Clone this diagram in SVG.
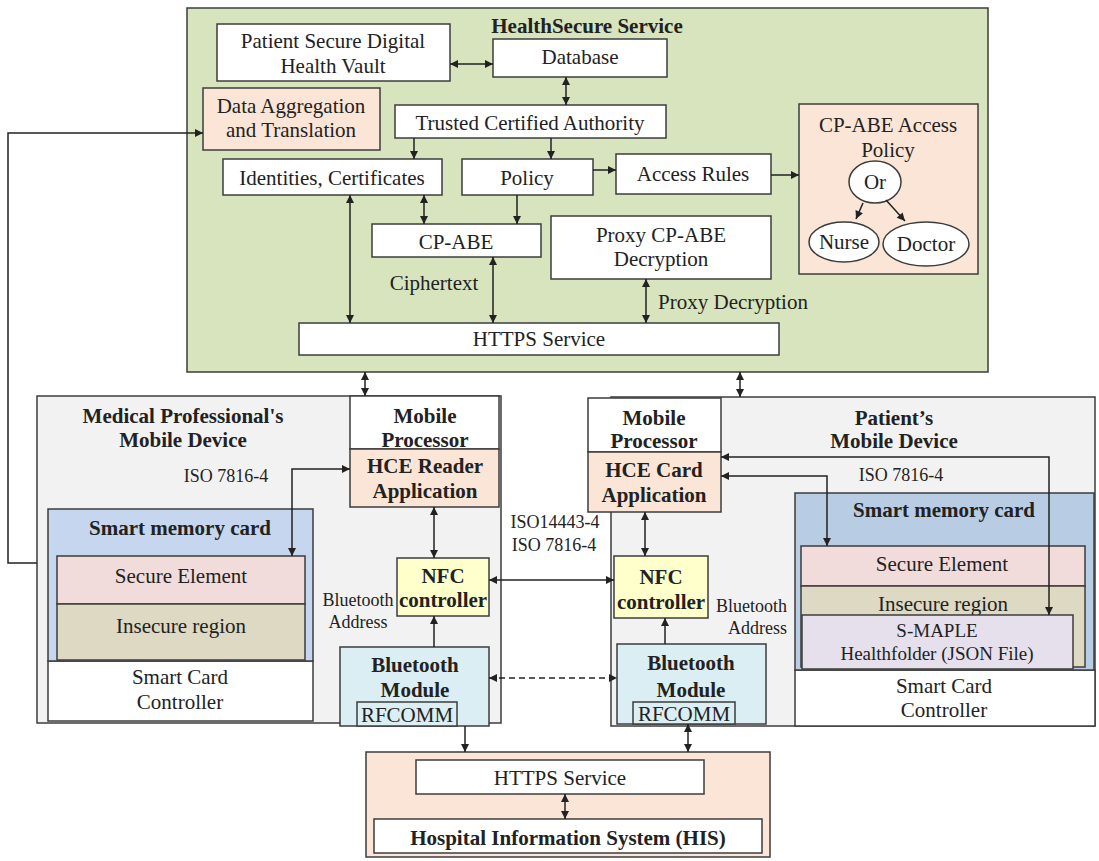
<svg xmlns="http://www.w3.org/2000/svg" width="1099" height="861" viewBox="0 0 1099 861">
<defs>
<marker id="ah" viewBox="0 0 10 10" refX="10" refY="5" markerWidth="9" markerHeight="8" markerUnits="userSpaceOnUse" orient="auto-start-reverse">
<path d="M0,0 L10,5 L0,10 z" fill="#222"/>
</marker>
</defs>
<style>
text{font-family:"Liberation Serif","Times New Roman",serif;font-size:21px;fill:#222;text-anchor:middle}
.b{font-weight:bold}
.s{font-size:18px}
.bx{stroke:#3c3c3c;stroke-width:1.5}
.w{fill:#fff}
.g{fill:#d7e4bd}
.p{fill:#fbe5d6}
.dev{fill:#f2f2f2}
.bl{fill:#c6d6ee}
.bl2{fill:#b8cce4}
.se{fill:#f2dcdb}
.ins{fill:#ddd9c3}
.sm{fill:#e6e0ec}
.y{fill:#ffffcc}
.bt{fill:#daeef3}
.c{fill:none;stroke:#222;stroke-width:1.5}
.d{stroke-dasharray:6,4}
</style>
<rect width="1099" height="861" fill="#fff"/>

<g id="healthsecure">
<rect class="bx g" x="187" y="8" width="801" height="364"/>
<text class="b" x="587" y="33">HealthSecure Service</text>
</g>
<g id="vault"><rect class="bx w" x="217" y="24" width="233" height="57"/><text x="333" y="48">Patient Secure Digital</text><text x="333" y="73">Health Vault</text></g>
<g id="database"><rect class="bx w" x="493" y="39" width="174" height="38"/><text x="580" y="64">Database</text></g>
<g id="aggregation"><rect class="bx p" x="203" y="88" width="177" height="62"/><text x="291" y="113">Data Aggregation</text><text x="291" y="137">and Translation</text></g>
<g id="tca"><rect class="bx w" x="395" y="105" width="271" height="33"/><text x="530" y="130">Trusted Certified Authority</text></g>
<g id="identities"><rect class="bx w" x="223" y="159" width="219" height="36"/><text x="332" y="185">Identities, Certificates</text></g>
<g id="policy"><rect class="bx w" x="462" y="159" width="131" height="36"/><text x="527" y="185">Policy</text></g>
<g id="accessrules"><rect class="bx w" x="616" y="154" width="155" height="40"/><text x="693" y="181">Access Rules</text></g>
<g id="accesspolicy">
<rect class="bx p" x="799" y="104" width="179" height="170"/>
<text x="888" y="132">CP-ABE Access</text><text x="888" y="157">Policy</text>
<ellipse class="bx w" cx="875" cy="182" rx="26" ry="21"/><text x="875" y="189">Or</text>
<ellipse class="bx w" cx="844" cy="242" rx="35" ry="20"/><text x="844" y="249">Nurse</text>
<ellipse class="bx w" cx="926" cy="244" rx="43" ry="22"/><text x="926" y="251">Doctor</text>
</g>
<g id="cpabe"><rect class="bx w" x="372" y="224" width="169" height="33"/><text x="456" y="249">CP-ABE</text></g>
<g id="proxy"><rect class="bx w" x="551" y="216" width="220" height="63"/><text x="661" y="242">Proxy CP-ABE</text><text x="661" y="266">Decryption</text></g>
<g id="https-top"><rect class="bx w" x="299" y="323" width="480" height="32"/><text x="539" y="346">HTTPS Service</text></g>
<text x="434" y="290">Ciphertext</text>
<text x="733" y="309">Proxy Decryption</text>

<g id="medical-device">
<rect class="bx dev" x="37" y="396" width="464" height="327"/>
<text class="b" x="183" y="423">Medical Professional's</text>
<text class="b" x="183" y="447">Mobile Device</text>
<text class="s" x="226" y="482">ISO 7816-4</text>
</g>
<g id="mp-left"><rect class="bx w" x="350" y="396" width="149" height="53"/><text class="b" x="425" y="423">Mobile</text><text class="b" x="425" y="447">Processor</text></g>
<g id="hce-reader"><rect class="bx p" x="350" y="449" width="149" height="58"/><text class="b" x="425" y="473">HCE Reader</text><text class="b" x="425" y="498">Application</text></g>
<g id="card-left">
<rect class="bx w" x="48" y="661" width="265" height="60"/>
<text x="180" y="684">Smart Card</text><text x="180" y="709">Controller</text>
<rect class="bx bl" x="48" y="509" width="265" height="152"/>
<text class="b" x="180" y="535">Smart memory card</text>
<rect class="bx se" x="57" y="556" width="248" height="48"/><text x="181" y="583">Secure Element</text>
<rect class="bx ins" x="57" y="604" width="248" height="56"/><text x="181" y="633">Insecure region</text>
</g>
<g id="nfc-left"><rect class="bx y" x="397" y="558" width="92" height="58"/><text class="b" x="443" y="583">NFC</text><text class="b" x="443" y="607">controller</text></g>
<g id="bt-left">
<rect class="bx bt" x="340" y="647" width="149" height="79"/>
<text class="b" x="415" y="672">Bluetooth</text><text class="b" x="415" y="697">Module</text>
<rect class="bx bt" x="357" y="702" width="100" height="24"/><text x="407" y="722">RFCOMM</text>
</g>
<text class="s" x="358" y="606">Bluetooth</text>
<text class="s" x="358" y="628">Address</text>

<g id="patient-device">
<rect class="bx dev" x="611" y="397" width="484" height="329"/>
<text class="b" x="894" y="425">Patient’s</text>
<text class="b" x="894" y="448">Mobile Device</text>
<text class="s" x="901" y="481">ISO 7816-4</text>
</g>
<g id="mp-right"><rect class="bx w" x="588" y="398" width="133" height="54"/><text class="b" x="654" y="425">Mobile</text><text class="b" x="654" y="448">Processor</text></g>
<g id="hce-card"><rect class="bx p" x="588" y="452" width="133" height="60"/><text class="b" x="654" y="477">HCE Card</text><text class="b" x="654" y="502">Application</text></g>
<g id="card-right">
<rect class="bx w" x="795" y="670" width="300" height="56"/>
<text x="944" y="693">Smart Card</text><text x="944" y="717">Controller</text>
<rect class="bx bl2" x="795" y="493" width="299" height="177"/>
<text class="b" x="944" y="517">Smart memory card</text>
<rect class="bx se" x="801" y="546" width="284" height="40"/><text x="942" y="571">Secure Element</text>
<rect class="bx ins" x="801" y="586" width="284" height="81"/><text x="943" y="611">Insecure region</text>
<rect class="bx sm" x="802" y="615" width="271" height="54"/>
<text x="937" y="637" style="font-size:19px">S-MAPLE</text>
<text x="937" y="660" style="font-size:19px">Healthfolder (JSON File)</text>
</g>
<g id="nfc-right"><rect class="bx y" x="614" y="556" width="94" height="62"/><text class="b" x="661" y="584">NFC</text><text class="b" x="661" y="609">controller</text></g>
<g id="bt-right">
<rect class="bx bt" x="617" y="644" width="149" height="80"/>
<text class="b" x="691" y="670">Bluetooth</text><text class="b" x="691" y="697">Module</text>
<rect class="bx bt" x="633" y="702" width="102" height="22"/><text x="684" y="721">RFCOMM</text>
</g>
<text class="s" x="787" y="612" style="text-anchor:end">Bluetooth</text>
<text class="s" x="787" y="634" style="text-anchor:end">Address</text>

<text class="s" x="555" y="528">ISO14443-4</text>
<text class="s" x="554" y="551">ISO 7816-4</text>

<g id="his">
<rect class="bx p" x="366" y="752" width="404" height="105"/>
<rect class="bx w" x="416" y="760" width="288" height="34"/><text x="560" y="785">HTTPS Service</text>
<rect class="bx w" x="374" y="819" width="388" height="34"/><text class="b" x="568" y="845">Hospital Information System (HIS)</text>
</g>

<g id="connectors">
<line class="c" x1="450" y1="64" x2="493" y2="64" marker-start="url(#ah)" marker-end="url(#ah)"/>
<line class="c" x1="566" y1="77" x2="566" y2="105" marker-start="url(#ah)" marker-end="url(#ah)"/>
<line class="c" x1="414" y1="138" x2="414" y2="159" marker-end="url(#ah)"/>
<line class="c" x1="551" y1="138" x2="551" y2="159" marker-end="url(#ah)"/>
<line class="c" x1="593" y1="170" x2="616" y2="170" marker-end="url(#ah)"/>
<line class="c" x1="771" y1="175" x2="799" y2="175" marker-end="url(#ah)"/>
<line class="c" x1="863" y1="203" x2="856" y2="219" marker-end="url(#ah)"/>
<line class="c" x1="886" y1="200" x2="905" y2="221" marker-end="url(#ah)"/>
<line class="c" x1="424" y1="195" x2="424" y2="224" marker-start="url(#ah)" marker-end="url(#ah)"/>
<line class="c" x1="517" y1="195" x2="517" y2="224" marker-end="url(#ah)"/>
<line class="c" x1="350" y1="195" x2="350" y2="323" marker-start="url(#ah)" marker-end="url(#ah)"/>
<line class="c" x1="493" y1="257" x2="493" y2="323" marker-start="url(#ah)" marker-end="url(#ah)"/>
<line class="c" x1="646" y1="279" x2="646" y2="323" marker-start="url(#ah)" marker-end="url(#ah)"/>
<polyline class="c" points="37,563 8,563 8,133 203,133" marker-end="url(#ah)"/>
<line class="c" x1="365" y1="372" x2="365" y2="396" marker-start="url(#ah)" marker-end="url(#ah)"/>
<line class="c" x1="740" y1="372" x2="740" y2="397" marker-start="url(#ah)" marker-end="url(#ah)"/>
<polyline class="c" points="350,469 292,469 292,556" marker-start="url(#ah)" marker-end="url(#ah)"/>
<line class="c" x1="434" y1="507" x2="434" y2="558" marker-start="url(#ah)" marker-end="url(#ah)"/>
<line class="c" x1="434" y1="647" x2="434" y2="616" marker-end="url(#ah)"/>
<line class="c" x1="489" y1="580" x2="614" y2="580" marker-start="url(#ah)" marker-end="url(#ah)"/>
<line class="c d" x1="489" y1="678" x2="617" y2="678" marker-start="url(#ah)" marker-end="url(#ah)"/>
<line class="c" x1="645" y1="512" x2="645" y2="556" marker-start="url(#ah)" marker-end="url(#ah)"/>
<line class="c" x1="665" y1="644" x2="665" y2="618" marker-end="url(#ah)"/>
<polyline class="c" points="721,457 1049,457 1049,615" marker-start="url(#ah)" marker-end="url(#ah)"/>
<polyline class="c" points="721,476 827,476 827,546" marker-start="url(#ah)" marker-end="url(#ah)"/>
<line class="c" x1="465" y1="726" x2="465" y2="752" marker-end="url(#ah)"/>
<line class="c" x1="688" y1="724" x2="688" y2="752" marker-start="url(#ah)" marker-end="url(#ah)"/>
<line class="c" x1="565" y1="794" x2="565" y2="819" marker-start="url(#ah)" marker-end="url(#ah)"/>
</g>
</svg>
